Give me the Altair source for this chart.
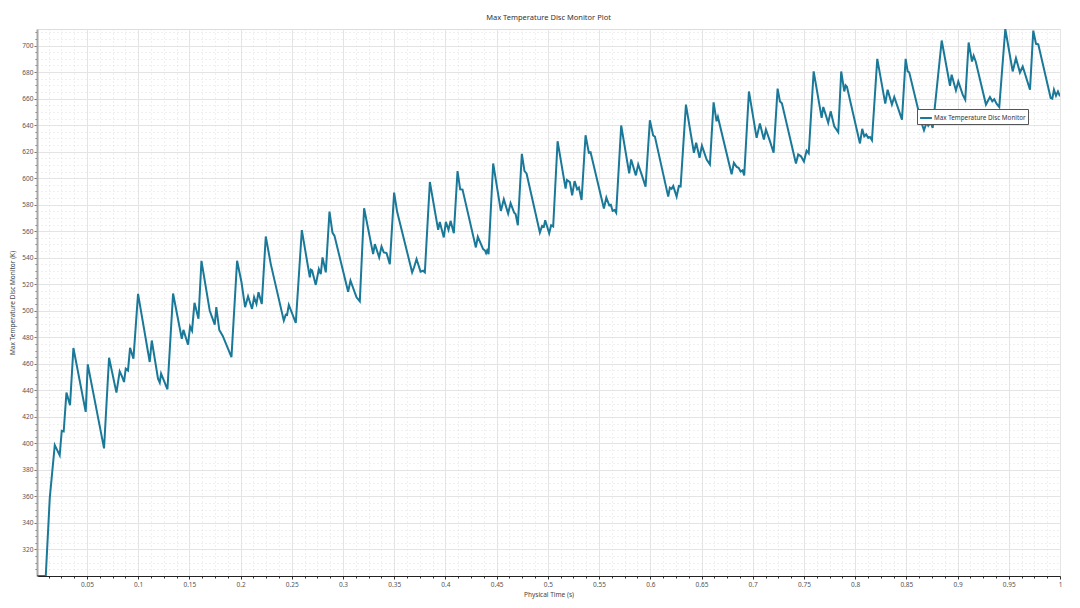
import altair as alt
import pandas as pd

SERIES = "Max Temperature Disc Monitor"

time_s = [
    0.00125, 0.0098, 0.0137, 0.0186, 0.0234, 0.0254, 0.0273, 0.0300, 0.0335, 0.0368,
    0.0488, 0.0508, 0.0667, 0.0716, 0.0788, 0.0820, 0.0840, 0.0862, 0.0879, 0.0901,
    0.0921, 0.0954, 0.0999, 0.1113, 0.1133, 0.1194, 0.1211, 0.1224, 0.1286, 0.1341,
    0.1426, 0.1442, 0.1487, 0.1507, 0.1526, 0.1550, 0.1589, 0.1618, 0.1657, 0.1699,
    0.1748, 0.1763, 0.1792, 0.1826, 0.1911, 0.1966, 0.2009, 0.2044, 0.2073, 0.2112,
    0.2132, 0.2155, 0.2175, 0.2207, 0.2246, 0.2295, 0.2422, 0.2441, 0.2454, 0.2471,
    0.2539, 0.2598, 0.2676, 0.2686, 0.2698, 0.2734, 0.2764, 0.2783, 0.2800, 0.2832,
    0.2868, 0.2897, 0.2917, 0.3050, 0.3073, 0.3132, 0.3164, 0.3206, 0.3294, 0.3311,
    0.3353, 0.3376, 0.3398, 0.3425, 0.3457, 0.3499, 0.3528, 0.3675, 0.3694, 0.3718,
    0.3757, 0.3782, 0.3799, 0.3848, 0.3929, 0.3945, 0.3984, 0.4004, 0.4030, 0.4050,
    0.4082, 0.4118, 0.4144, 0.4167, 0.4297, 0.4316, 0.4368, 0.4385, 0.4397, 0.4407,
    0.4421, 0.4466, 0.4541, 0.4570, 0.4612, 0.4636, 0.4671, 0.4685, 0.4707, 0.4746,
    0.4772, 0.4792, 0.4922, 0.4944, 0.4961, 0.4974, 0.5013, 0.5032, 0.5052, 0.5095,
    0.5173, 0.5186, 0.5215, 0.5237, 0.5261, 0.5286, 0.5303, 0.5329, 0.5368, 0.5400,
    0.5417, 0.5547, 0.5571, 0.5599, 0.5615, 0.5632, 0.5651, 0.5667, 0.5716, 0.5794,
    0.5813, 0.5859, 0.5882, 0.5915, 0.5954, 0.5996, 0.6028, 0.6045, 0.6175, 0.6191,
    0.6208, 0.6224, 0.6257, 0.6279, 0.6296, 0.6348, 0.6426, 0.6448, 0.6481, 0.6504,
    0.6550, 0.6582, 0.6618, 0.6647, 0.6660, 0.6794, 0.6816, 0.6843, 0.6862, 0.6882,
    0.6901, 0.6917, 0.6963, 0.7038, 0.7070, 0.7109, 0.7129, 0.7168, 0.7204, 0.7243,
    0.7266, 0.7285, 0.7422, 0.7444, 0.7471, 0.7500, 0.7526, 0.7547, 0.7595, 0.7673,
    0.7689, 0.7737, 0.7761, 0.7796, 0.7835, 0.7864, 0.7894, 0.7907, 0.7920, 0.8047,
    0.8069, 0.8089, 0.8108, 0.8128, 0.8145, 0.8164, 0.8216, 0.8294, 0.8317, 0.8359,
    0.8382, 0.8457, 0.8493, 0.8513, 0.8528, 0.8643, 0.8672, 0.8698, 0.8714, 0.8737,
    0.8757, 0.8845, 0.8926, 0.8942, 0.8984, 0.9007, 0.9050, 0.9075, 0.9108, 0.9141,
    0.9157, 0.9177, 0.9277, 0.9316, 0.9339, 0.9358, 0.9382, 0.9407, 0.9466, 0.9538,
    0.9570, 0.9609, 0.9636, 0.9707, 0.9739, 0.9766, 0.9788, 0.9909, 0.9925, 0.9941,
    0.9961, 0.9980, 1.0,
]

temp_k = [
    300, 300, 358.7, 398.7, 391, 409.5, 409, 438.3, 428.8, 471.9,
    423.8, 459.6, 396.2, 464.6, 438.3, 454.3, 451, 446.3, 456.4, 455,
    472.1, 463.9, 512.8, 461.4, 477.6, 448.8, 445.8, 452.6, 440.8, 513,
    478.9, 485.6, 474.4, 488.1, 485, 506, 494, 537.7, 519.5, 500,
    489.5, 502.7, 485.5, 481, 465.1, 537.7, 521.5, 502.7, 511, 501.4,
    510.2, 505.2, 514, 505.2, 556, 535.2, 492.6, 497.1, 496.8, 504.4,
    490.9, 560.8, 525.2, 531, 530.4, 519.5, 531.5, 527.7, 540.3, 529,
    574.8, 559, 556.5, 514.4, 522.7, 510.2, 507.2, 577.3, 542.7, 550.3,
    540.3, 548.5, 544, 543.5, 535.2, 589.1, 574.8, 529, 532.8, 539,
    529.5, 530.2, 529, 597.1, 561, 567, 555.3, 567, 561, 567.8,
    558.5, 605.3, 591.6, 591.4, 547.8, 555.8, 546.5, 545.6, 543.5, 545.5,
    542.7, 611.1, 575.3, 584.1, 573.3, 581.1, 574, 573, 564.5, 618.4,
    605.3, 603.6, 559, 564, 563.5, 568.3, 558.5, 564.5, 563.6, 627.9,
    592.1, 598.6, 597, 587.1, 597.8, 591.6, 592.9, 583.5, 632.4, 619.2,
    619.6, 577.1, 585.4, 579.6, 580, 575.3, 576, 574, 639.7, 603.6,
    614.1, 602.1, 610.4, 602.9, 593.6, 643.7, 632.2, 631.4, 586.1, 592.9,
    592, 594.1, 586.1, 594.1, 593.8, 655.5, 619.2, 626.7, 615.4, 624.6,
    614.1, 610.4, 657.2, 642.9, 646.2, 602.9, 611.6, 608.5, 607.9, 605,
    606, 602.1, 665.4, 630.4, 641.2, 629.2, 636.7, 627.9, 619.2, 667.5,
    657.9, 656.5, 611.1, 617.9, 616.5, 612.5, 620.8, 618.8, 680.5, 645.5,
    653.7, 641.7, 650.4, 639.1, 634.6, 680.5, 665.4, 670, 669, 626.2,
    637.2, 631.6, 633, 630.4, 631, 628.6, 690, 656.2, 666.7, 655.5,
    661.2, 644.2, 690, 680.5, 679.8, 642.9, 636.1, 642.1, 639.5, 642,
    637.9, 703.8, 669.7, 678, 666.2, 672.9, 663, 659.2, 702.3, 688,
    692.3, 688, 655.5, 661.2, 658, 659.5, 656, 653.7, 712.5, 680.5,
    690.5, 679.7, 684.2, 666.7, 711.3, 701.3, 701, 660.5, 660, 666.7,
    662.2, 665.4, 661.7,
]

x_ticks = [round(k * 0.0125, 4) for k in range(1, 81)]
y_ticks = list(range(305, 713, 5))

df = pd.DataFrame({"t": time_s, "T": temp_k, "series": [SERIES] * len(time_s)})

FONT = "Noto Sans"
major_x = "abs(datum.value * 20 - round(datum.value * 20)) < 0.000001"
major_y = "datum.value % 20 === 0"

x_axis = alt.Axis(
    title="Physical Time (s)",
    values=x_ticks,
    format="~g",
    labelExpr=f"({major_x}) ? datum.label : ''",
    labelOverlap=False,
    labelFlush=False,
    labelBound=False,
    labelFontSize=6.5,
    labelFont=FONT,
    labelColor="#555555",
    labelPadding=2,
    titleFontSize=6.5,
    titleFont=FONT,
    titleFontWeight="normal",
    titleColor="#444444",
    titlePadding=4,
    domainColor="#222222",
    domainWidth=1,
    tickColor="#333333",
    tickSize={"condition": {"test": major_x, "value": 3}, "value": 2},
    grid=True,
    gridColor={"condition": {"test": major_x, "value": "#e4e4e4"}, "value": "#e0e0e0"},
    gridDash={"condition": {"test": major_x, "value": []}, "value": [1, 3]},
    gridWidth=1,
)

y_axis = alt.Axis(
    title="Max Temperature Disc Monitor (K)",
    values=y_ticks,
    format="d",
    labelExpr=f"({major_y}) ? datum.label : ''",
    labelOverlap=False,
    labelFlush=False,
    labelBound=False,
    labelFontSize=6.5,
    labelFont=FONT,
    labelColor="#555555",
    labelPadding=1,
    titleFontSize=6.5,
    titleFont=FONT,
    titleFontWeight="normal",
    titleColor="#444444",
    titlePadding=6,
    domainColor="#a8a8a8",
    domainWidth=2,
    tickColor="#777777",
    tickSize={"condition": {"test": major_y, "value": 3}, "value": 2},
    grid=True,
    gridColor={"condition": {"test": major_y, "value": "#e4e4e4"}, "value": "#e0e0e0"},
    gridDash={"condition": {"test": major_y, "value": []}, "value": [1, 3]},
    gridWidth=1,
)

chart = (
    alt.Chart(df)
    .mark_line(strokeWidth=2, clip=True, interpolate="linear")
    .encode(
        x=alt.X("t:Q", scale=alt.Scale(domain=[0.00125, 1.0], nice=False, zero=False), axis=x_axis),
        y=alt.Y("T:Q", scale=alt.Scale(domain=[300, 712.5], nice=False, zero=False), axis=y_axis),
        color=alt.Color(
            "series:N",
            scale=alt.Scale(domain=[SERIES], range=["#1a7898"]),
            legend=alt.Legend(
                title=None,
                orient="none",
                legendX=880,
                legendY=80,
                fillColor="white",
                strokeColor="#555555",
                padding=2,
                symbolType="stroke",
                symbolSize=140,
                symbolStrokeWidth=2,
                labelFontSize=6.3,
                labelFont=FONT,
                labelColor="#333333",
                labelOffset=1,
            ),
        ),
    )
    .properties(
        width=1023,
        height=547,
        title=alt.TitleParams(
            "Max Temperature Disc Monitor Plot",
            fontSize=7.5,
            font=FONT,
            fontWeight="normal",
            color="#333333",
            anchor="middle",
            offset=8,
        ),
        autosize=alt.AutoSizeParams(type="none"),
        padding={"left": 29, "top": 21, "right": 12, "bottom": 24},
    )
    .configure_view(stroke=None)
    .configure(background="white")
)

chart.save("out.html", embed_options={"renderer": "svg", "actions": False})
